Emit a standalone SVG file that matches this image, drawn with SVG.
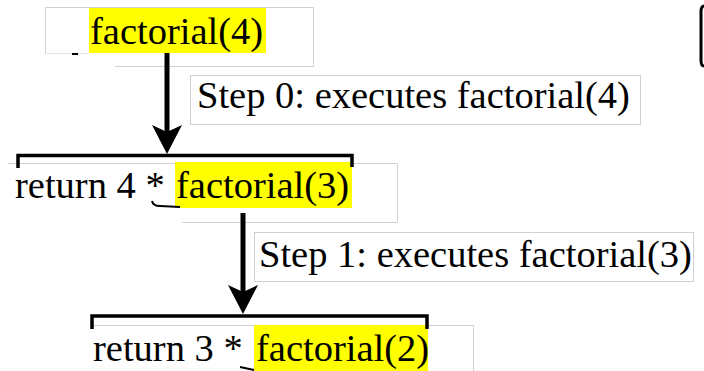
<svg xmlns="http://www.w3.org/2000/svg" width="704" height="371" viewBox="0 0 704 371">
<style>
.t{font-family:"Liberation Serif","Times New Roman",serif;font-size:38.5px;fill:#000}
.box{fill:none;stroke:#d0d0d0;stroke-width:1}
.hl{fill:#ffff00}
.ln{fill:none;stroke:#000;stroke-width:5}
.br{fill:none;stroke:#000;stroke-width:3.5}
.frag{fill:none;stroke:#000;stroke-width:2}
</style>
<defs>
<marker id="ah" markerUnits="userSpaceOnUse" markerWidth="30" markerHeight="30" viewBox="0 0 30 30" refX="14" refY="15" orient="auto">
<path d="M0,0 L29,15 L0,30 L7,15 Z" fill="#000"/>
</marker>
</defs>
<rect width="704" height="371" fill="#fff"/>

<g id="node-factorial4">
<path class="box" d="M45.5,53 L45.5,7.5 L313.5,7.5 L313.5,66.5 L115,66.5"/>
<path d="M45,53.5 L88,53.5" stroke="#e4e4e4" stroke-width="1"/>
<rect class="hl" x="89" y="8" width="177" height="45"/>
<text class="t" x="90" y="44">factorial(4)</text>
<path class="frag" d="M72,54 L78,54"/>
</g>

<g id="label-step0">
<rect class="box" x="190.5" y="75.5" width="450" height="49"/>
<text class="t" x="197" y="108">Step 0: executes factorial(4)</text>
</g>

<g id="node-return4">
<path class="box" d="M8,163.5 L397.5,163.5 L397.5,222.5 L182,222.5"/>
<rect class="hl" x="175" y="162" width="177" height="46"/>
<text class="t" x="15" y="198">return 4 *</text>
<text class="t" x="176" y="198">factorial(3)</text>
<path class="frag" d="M152,201 Q153,206 160,206 L180,207"/>
</g>

<g id="label-step1">
<rect class="box" x="254.5" y="232.5" width="439" height="49"/>
<text class="t" x="259" y="267">Step 1: executes factorial(3)</text>
</g>

<g id="node-return3">
<path class="box" d="M92,325.5 L473.5,325.5 L473.5,371"/>
<rect class="hl" x="254" y="325" width="174" height="46"/>
<text class="t" x="93" y="361">return 3 *</text>
<text class="t" x="256" y="361">factorial(2)</text>
<path class="frag" d="M240,367 L254,370"/>
</g>

<g id="edge-mark">
<path d="M704,6 Q701,6 701,12 L701,60 Q701,66 704,66" fill="none" stroke="#000" stroke-width="3"/>
</g>

<g id="connectors">
<line class="ln" x1="167" y1="53" x2="167" y2="139" marker-end="url(#ah)"/>
<path class="br" d="M18,168 L18,155.5 L352,155.5 L352,167"/>
<line class="ln" x1="243" y1="213" x2="243" y2="299" marker-end="url(#ah)"/>
<path class="br" d="M92,329 L92,316 L427,316 L427,329"/>
</g>
</svg>
